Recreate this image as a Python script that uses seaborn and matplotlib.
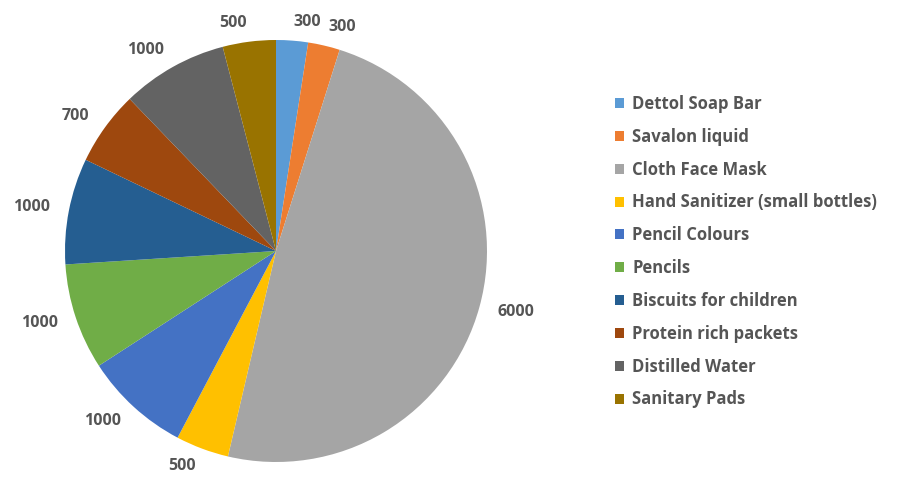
import numpy as np
import seaborn as sns
import matplotlib
matplotlib.use('Agg')
from matplotlib import pyplot as plt
from matplotlib.patches import Patch

# data
items = ['Dettol Soap Bar', 'Savalon liquid', 'Cloth Face Mask',
         'Hand Sanitizer (small bottles)', 'Pencil Colours', 'Pencils',
         'Biscuits for children', 'Protein rich packets', 'Distilled Water',
         'Sanitary Pads']
quantities = [300, 300, 6000, 500, 1000, 1000, 1000, 700, 1000, 500]
colours = ['#5B9BD5', '#ED7D31', '#A5A5A5', '#FFC000', '#4472C4',
           '#70AD47', '#255E91', '#9E480E', '#636363', '#997300']

sns.set_theme(style='white')
plt.rcParams['font.family'] = ['Open Sans', 'DejaVu Sans']
palette = sns.color_palette(colours)
text_col = '#555555'

fig = plt.figure(figsize=(9, 4.8), dpi=100)
# pie centre ~ (276, 251) px, radius ~ 211 px
ax = fig.add_axes([65 / 900, (480 - 462) / 480, 422 / 900, 422 / 480])
wedges, texts = ax.pie(quantities, labels=[str(q) for q in quantities],
                       colors=palette, startangle=90, counterclock=False,
                       labeldistance=1.09, radius=1.0,
                       wedgeprops=dict(linewidth=0),
                       textprops=dict(color=text_col, fontsize=11.5,
                                      fontweight='bold'))
ax.set_xlim(-1, 1)
ax.set_ylim(-1, 1)
ax.set_aspect('equal')
ax.axis('off')

handles = [Patch(facecolor=c, edgecolor='none') for c in palette]
leg = fig.legend(handles, items, loc='upper left',
                 bbox_to_anchor=(615 / 900, 1 - 95 / 480), frameon=False,
                 borderpad=0, borderaxespad=0,
                 handlelength=0.55, handleheight=0.55, handletextpad=0.5,
                 labelspacing=0.89, prop=dict(size=12, weight='bold'))
for t in leg.get_texts():
    t.set_color(text_col)

fig.savefig('out.png', dpi=100)
